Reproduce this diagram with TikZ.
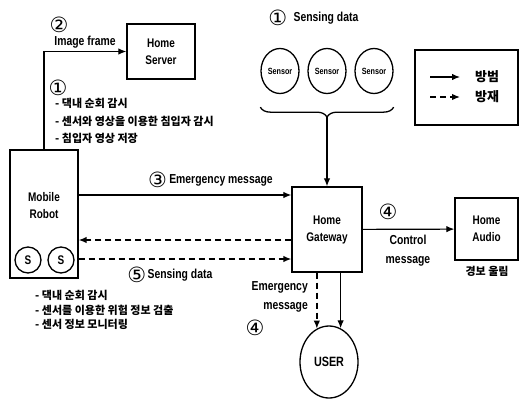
\documentclass[tikz,border=0pt]{standalone}
\usepackage{fontspec}
\setmainfont{Liberation Sans}[FakeStretch=0.8]
\newfontfamily\kr{Noto Sans CJK KR}
\newfontfamily\numfont{DejaVu Sans}
\usepackage{tikz}
\usetikzlibrary{shapes.geometric, arrows.meta, positioning, decorations.pathreplacing}
\tikzstyle{arrow} = [line width=1.2pt,->,>={Latex[length=8pt,width=6.5pt]}]
\tikzstyle{dasharrow} = [line width=1.4pt,->,>={Latex[length=8pt,width=6.5pt]}, dash pattern=on 6pt off 4pt]
\tikzstyle{box} = [rectangle, draw=black, line width=1.3pt, align=center, inner sep=0pt, font=\bfseries\fontsize{12.5}{17}\selectfont]
\tikzstyle{sensor} = [ellipse, draw=black, line width=1.3pt, minimum width=38pt, minimum height=45pt, inner sep=0pt, font=\bfseries\fontsize{9}{9}\selectfont]
\tikzstyle{lbl} = [inner sep=0pt, font=\bfseries\fontsize{13}{19}\selectfont]
\tikzstyle{num} = [inner sep=0pt, font=\numfont\fontsize{21}{21}\selectfont]
\tikzstyle{kor} = [inner sep=0pt, align=left, font=\kr\bfseries\fontsize{11}{17.5}\selectfont]

\begin{document}
\begin{tikzpicture}[x=1pt, y=-1pt]
    \useasboundingbox (0,0) rectangle (519,399);

    % Robot and server
    \node (server) [box, minimum width=68pt, minimum height=55pt] at (161,51.5) {Home\\Server};
    \node (robot) [box, minimum width=68pt, minimum height=128pt] at (44,214) {};
    \node (robottxt) [box, draw=none] at (44,206) {Mobile\\Robot};
    \node (rs1) [box, circle, minimum size=26pt] at (28,260) {S};
    \node (rs2) [box, circle, minimum size=26pt] at (61,260) {S};

    % Sensors
    \node (sen1) [sensor] at (280,71) {Sensor};
    \node (sen2) [sensor] at (327,71) {Sensor};
    \node (sen3) [sensor] at (374,71) {Sensor};
    \node (sentxt) [lbl] at (326,18) {Sensing data};
    \node (n1b) [num, left=6pt of sentxt] {①};
    \coordinate (brtip) at (327,117);

    % Gateway, audio, user
    \node (gw) [box, minimum width=70pt, minimum height=85pt] at (327,229.5) {Home\\Gateway};
    \node (audio) [box, minimum width=63pt, minimum height=62pt] at (486.5,229) {Home\\Audio};
    \node (user) [box, ellipse, minimum width=58pt, minimum height=72pt, font=\bfseries\fontsize{13.5}{15}\selectfont] at (329,362) {USER};
    \node (alarm) [kor] at (487,271) {경보 울림};

    % Legend
    \node (legend) [box, minimum width=103pt, minimum height=75pt] at (466.5,87.5) {};
    \coordinate (l1a) at (430,77);
    \coordinate (l1b) at (460,77);
    \coordinate (l2a) at (430,97);
    \coordinate (l2b) at (460,97);
    \node (t1) [kor, font=\kr\bfseries\fontsize{13}{13}\selectfont] at (487,77) {방범};
    \node (t2) [kor, font=\kr\bfseries\fontsize{13}{13}\selectfont] at (487,97) {방재};

    % Labels
    \node (imgtxt) [lbl] at (85,42) {Image frame};
    \node (n2) [num] at (59,25) {②};
    \node (n1a) [num] at (58,88) {①};
    \node (list1) [kor, anchor=west] at (55,121) {- 댁내 순회 감시\\- 센서와 영상을 이용한 침입자 감시\\- 침입자 영상 저장};
    \node (emtxt) [lbl] at (221,180) {Emergency message};
    \node (n3) [num, left=2pt of emtxt] {③};
    \node (sdtxt) [lbl] at (180,275) {Sensing data};
    \node (n5) [num, left=1pt of sdtxt] {⑤};
    \node (list2) [kor, anchor=west, font=\kr\bfseries\fontsize{11}{14.5}\selectfont] at (35,310) {- 댁내 순회 감시\\- 센서를 이용한 위험 정보 검출\\- 센서 정보 모니터링};
    \node (n4a) [num] at (388,212) {④};
    \node (ctltxt) [lbl, align=center] at (408,251) {Control\\message};
    \node (emtxt2) [lbl, align=right, anchor=east] at (308,297) {Emergency\\message};
    \node (n4b) [num] at (255,328) {④};

    % Arrows
    \draw [arrow] (robot.north) |- (server.west);
    \draw [arrow] ([yshift=19pt]robot.east) -- ([yshift=19pt]robot.east -| gw.west);
    \draw [dasharrow] ([yshift=-26pt]robot.east -| gw.west) -- ([yshift=-26pt]robot.east);
    \draw [dasharrow] ([yshift=-45pt]robot.east) -- ([yshift=-45pt]robot.east -| gw.west);
    \draw [line width=1.3pt, decorate, decoration={brace, mirror, amplitude=10pt}] ([yshift=-13pt]sen1.south -| sen1.west) -- ([yshift=-13pt]sen3.south -| sen3.east);
    \draw [arrow] (brtip) -- (gw.north);
    \draw [arrow] (gw) -- (audio);
    \draw [dasharrow] (gw.south -| user.110) -- (user.110);
    \draw [arrow] (gw.south -| user.71) -- (user.71);
    \draw [arrow] (l1a) -- (l1b);
    \draw [dasharrow] (l2a) -- (l2b);
\end{tikzpicture}
\end{document}
